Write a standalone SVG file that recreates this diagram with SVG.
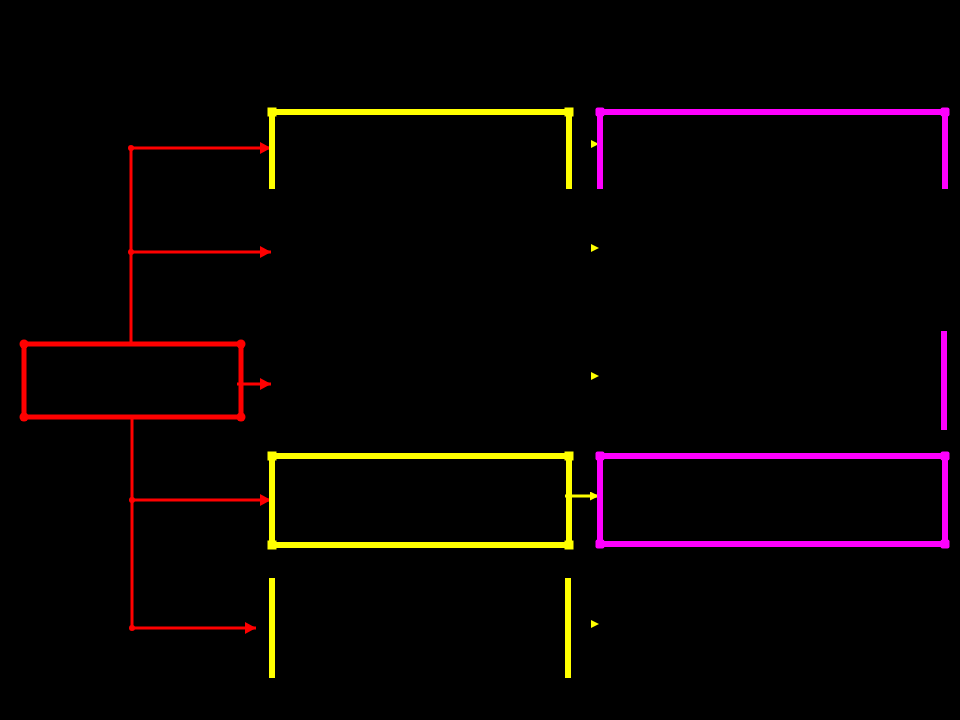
<svg xmlns="http://www.w3.org/2000/svg" width="960" height="720" viewBox="0 0 960 720">
<style>
.red{fill:none;stroke:#f00;stroke-width:5}
.yel{fill:none;stroke:#ff0;stroke-width:6}
.mag{fill:none;stroke:#f0f;stroke-width:6}
.rc{stroke:#f00;stroke-width:3;fill:none}
.yc{stroke:#ff0;stroke-width:3;fill:none}
.rd{fill:#f00}
.yd{fill:#ff0}
.md{fill:#f0f}
.yh{fill:#ff0}
</style>
<defs>
<marker id="ra" markerUnits="userSpaceOnUse" markerWidth="12" markerHeight="12" refX="11" refY="6" orient="auto"><path d="M0,0 L11,6 L0,12 z" fill="#f00"/></marker>
<marker id="ya" markerUnits="userSpaceOnUse" markerWidth="10" markerHeight="10" refX="9" refY="4.5" orient="auto"><path d="M0,0 L9,4.5 L0,9 z" fill="#ff0"/></marker>
</defs>
<rect width="960" height="720" fill="#000"/>

<g id="connectors">
<path class="rc" d="M131,148 V344"/>
<path class="rc" d="M132,417 V628"/>
<path class="rc" d="M131,148 H271" marker-end="url(#ra)"/>
<path class="rc" d="M131,252 H271" marker-end="url(#ra)"/>
<path class="rc" d="M237,384 H271" marker-end="url(#ra)"/>
<path class="rc" d="M132,500 H271" marker-end="url(#ra)"/>
<path class="rc" d="M132,628 H256" marker-end="url(#ra)"/>
<circle class="rd" cx="131" cy="148" r="3"/>
<circle class="rd" cx="131" cy="252" r="3"/>
<circle class="rd" cx="132" cy="500" r="3"/>
<circle class="rd" cx="132" cy="628" r="3"/>
<path class="yh" d="M591,140 L599,144 L591,148 z"/>
<path class="yh" d="M591,244 L599,248 L591,252 z"/>
<path class="yh" d="M591,372 L599,376 L591,380 z"/>
<path class="yc" d="M565,496 H599" marker-end="url(#ya)"/>
<path class="yh" d="M591,620 L599,624 L591,628 z"/>
</g>

<g id="root">
<rect class="red" x="24" y="344" width="217" height="73"/>
<circle class="rd" cx="24" cy="344" r="4.5"/>
<circle class="rd" cx="241" cy="344" r="4.5"/>
<circle class="rd" cx="24" cy="417" r="4.5"/>
<circle class="rd" cx="241" cy="417" r="4.5"/>
</g>

<g id="y1">
<path class="yel" d="M272,189 V112 H569 V189"/>
<rect class="yd" x="267.5" y="107.5" width="9" height="9"/>
<rect class="yd" x="564.5" y="107.5" width="9" height="9"/>
</g>

<g id="m1">
<path class="mag" d="M600,189 V112 H945 V189"/>
<rect class="md" x="595.5" y="107.5" width="9" height="9" rx="2"/>
<rect class="md" x="940.5" y="107.5" width="9" height="9" rx="2"/>
</g>

<g id="m3">
<path class="mag" d="M944,331 V430"/>
</g>

<g id="y4">
<rect class="yel" x="272" y="456" width="297" height="89"/>
<rect class="yd" x="267.5" y="451.5" width="9" height="9"/>
<rect class="yd" x="564.5" y="451.5" width="9" height="9"/>
<rect class="yd" x="267.5" y="540.5" width="9" height="9"/>
<rect class="yd" x="564.5" y="540.5" width="9" height="9"/>
</g>

<g id="m4">
<rect class="mag" x="600" y="456" width="345" height="88"/>
<rect class="md" x="595.5" y="451.5" width="9" height="9" rx="2"/>
<rect class="md" x="940.5" y="451.5" width="9" height="9" rx="2"/>
<rect class="md" x="595.5" y="539.5" width="9" height="9" rx="2"/>
<rect class="md" x="940.5" y="539.5" width="9" height="9" rx="2"/>
</g>

<g id="y5">
<path class="yel" d="M272,578 V678"/>
<path class="yel" d="M568,578 V678"/>
</g>
</svg>
